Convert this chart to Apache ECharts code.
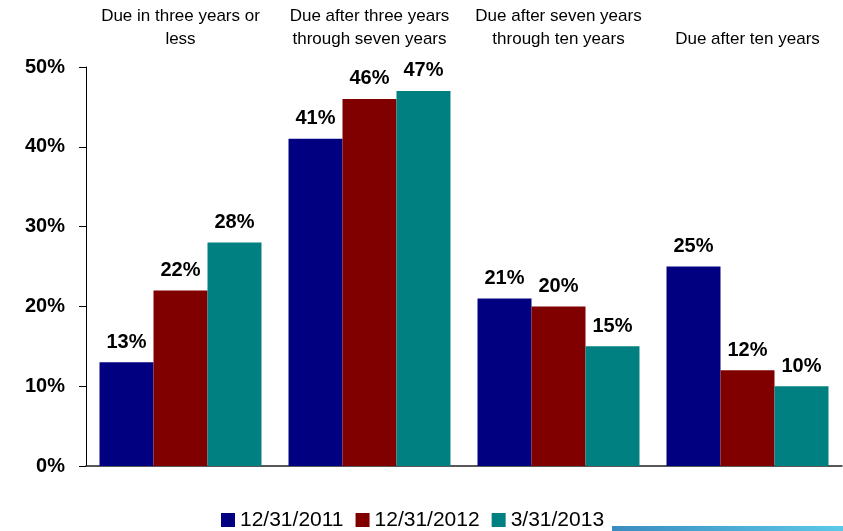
<!DOCTYPE html>
<html>
<head>
<meta charset="utf-8">
<script src="https://cdn.jsdelivr.net/npm/echarts@6/dist/echarts.min.js"></script>
<style>
  html, body { margin: 0; padding: 0; background: #fff; }
  #chart { width: 843px; height: 531px; }
</style>
</head>
<body>
<div id="chart"></div>
<script>
// Maturity buckets shown along the top
const categories = [
  'Due in three years or\nless',
  'Due after three years\nthrough seven years',
  'Due after seven years\nthrough ten years',
  'Due after ten years'
];

// Share of the portfolio (%) at each reporting date
const seriesNames = ['12/31/2011', '12/31/2012', '3/31/2013'];
const values2011 = [13, 41, 21, 25];
const values2012 = [22, 46, 20, 12];
const values2013 = [28, 47, 15, 10];
const seriesColors = ['#000080', '#800000', '#008080'];

const yTicks = { min: 0, max: 50, interval: 10 };

const chart = echarts.init(document.getElementById('chart'), null, { renderer: 'canvas' });

const labelStyle = {
  show: true,
  position: 'top',
  distance: 10,
  formatter: '{c}%',
  color: '#000',
  fontFamily: 'Liberation Sans, Arial, sans-serif',
  fontWeight: 'bold',
  fontSize: 20
};

function makeSeries(name, data, color) {
  return {
    name: name,
    type: 'bar',
    data: data,
    xAxisIndex: 0,
    barGap: '0%',
    barCategoryGap: '14.3%',
    itemStyle: { color: color },
    label: labelStyle,
    emphasis: { disabled: true }
  };
}

chart.setOption({
  animation: false,
  textStyle: { fontFamily: 'Liberation Sans, Arial, sans-serif' },
  grid: { left: 86, right: 1, top: 67, bottom: 65, containLabel: false },
  legend: {
    bottom: 0,
    left: 221,
    padding: 0,
    itemWidth: 14,
    itemHeight: 14,
    itemGap: 12,
    icon: 'rect',
    textStyle: { fontSize: 21, lineHeight: 22, color: '#000', fontFamily: 'Liberation Sans, Arial, sans-serif' },
    data: seriesNames
  },
  xAxis: [
    {
      type: 'category',
      data: categories,
      position: 'bottom',
      axisLine: { show: true, lineStyle: { color: '#222', width: 1.5 } },
      axisTick: { show: false },
      axisLabel: { show: false }
    },
    {
      type: 'category',
      data: categories,
      position: 'top',
      axisLine: { show: false },
      axisTick: { show: false },
      axisLabel: {
        show: true,
        interval: 0,
        margin: 16,
        fontSize: 17,
        lineHeight: 23,
        color: '#000',
        align: 'center',
        verticalAlign: 'bottom'
      }
    }
  ],
  yAxis: {
    type: 'value',
    min: yTicks.min,
    max: yTicks.max,
    interval: yTicks.interval,
    axisLine: { show: true, lineStyle: { color: '#000', width: 1 } },
    axisTick: { show: true, length: 7, lineStyle: { color: '#000' } },
    splitLine: { show: false },
    axisLabel: {
      formatter: '{value}%',
      margin: 21,
      fontSize: 20,
      fontWeight: 'bold',
      color: '#000'
    }
  },
  series: [
    makeSeries(seriesNames[0], values2011, seriesColors[0]),
    makeSeries(seriesNames[1], values2012, seriesColors[1]),
    makeSeries(seriesNames[2], values2013, seriesColors[2])
  ],
  graphic: [
    {
      type: 'rect',
      right: 0,
      bottom: 0,
      shape: { width: 231, height: 5 },
      style: {
        fill: new echarts.graphic.LinearGradient(0, 0, 1, 0, [
          { offset: 0, color: '#3a8cc0' },
          { offset: 1, color: '#5cc8e8' }
        ])
      },
      silent: true
    }
  ]
});
</script>
</body>
</html>
